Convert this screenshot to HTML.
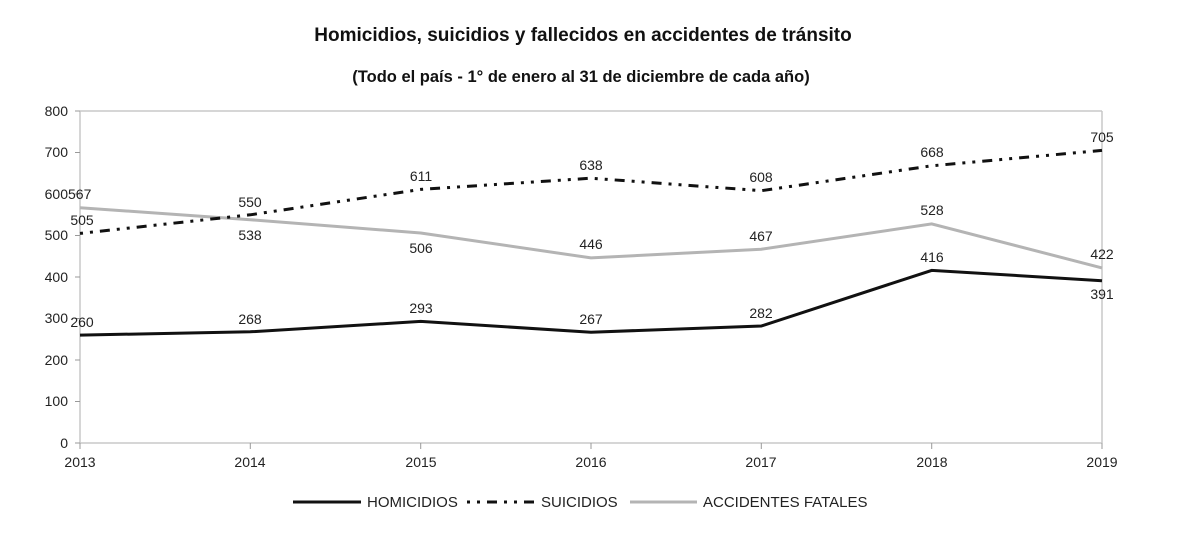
<!DOCTYPE html>
<html><head><meta charset="utf-8"><style>
body{margin:0;background:#fff;}
svg{display:block;font-family:"Liberation Sans",sans-serif;}
</style></head><body>
<svg width="1200" height="545" viewBox="0 0 1200 545">
<text x="583" y="41" text-anchor="middle" font-size="19" font-weight="bold" fill="#111">Homicidios, suicidios y fallecidos en accidentes de tránsito</text>
<text x="581" y="82" text-anchor="middle" font-size="16.5" font-weight="bold" fill="#111">(Todo el país - 1° de enero al 31 de diciembre de cada año)</text>
<g stroke="#c8c8c8" stroke-width="1.5" fill="none">
<line x1="80" y1="111" x2="1102" y2="111"/>
<line x1="80" y1="111" x2="80" y2="443"/>
<line x1="80" y1="443" x2="1102" y2="443"/>
<line x1="1102" y1="111" x2="1102" y2="443"/>
</g>
<g stroke="#999" stroke-width="1">
<line x1="75" y1="111" x2="80" y2="111"/><line x1="75" y1="152.5" x2="80" y2="152.5"/><line x1="75" y1="194" x2="80" y2="194"/><line x1="75" y1="235.5" x2="80" y2="235.5"/><line x1="75" y1="277" x2="80" y2="277"/><line x1="75" y1="318.5" x2="80" y2="318.5"/><line x1="75" y1="360" x2="80" y2="360"/><line x1="75" y1="401.5" x2="80" y2="401.5"/><line x1="75" y1="443" x2="80" y2="443"/>
<line x1="80" y1="443" x2="80" y2="449"/><line x1="250.3" y1="443" x2="250.3" y2="449"/><line x1="420.7" y1="443" x2="420.7" y2="449"/><line x1="591" y1="443" x2="591" y2="449"/><line x1="761.3" y1="443" x2="761.3" y2="449"/><line x1="931.7" y1="443" x2="931.7" y2="449"/><line x1="1102" y1="443" x2="1102" y2="449"/>
</g>
<g font-size="14" fill="#222" text-anchor="end">
<text x="68" y="116">800</text><text x="68" y="157">700</text><text x="68" y="199">600</text><text x="68" y="240">500</text><text x="68" y="282">400</text><text x="68" y="323">300</text><text x="68" y="365">200</text><text x="68" y="406">100</text><text x="68" y="448">0</text>
</g>
<g font-size="14" fill="#222" text-anchor="middle">
<text x="80" y="467">2013</text><text x="250" y="467">2014</text><text x="421" y="467">2015</text><text x="591" y="467">2016</text><text x="761" y="467">2017</text><text x="932" y="467">2018</text><text x="1102" y="467">2019</text>
</g>
<polyline fill="none" stroke="#b4b4b4" stroke-width="3" points="80,207.7 250.3,219.7 420.7,233 591,257.9 761.3,249.2 931.7,223.9 1102,267.9"/>
<polyline fill="none" stroke="#111" stroke-width="3" stroke-dasharray="3 7 3 7 10 7" points="80,233.4 250.3,214.8 420.7,189.4 591,178.2 761.3,190.7 931.7,165.8 1102,150.4"/>
<polyline fill="none" stroke="#111" stroke-width="3" points="80,335.1 250.3,331.8 420.7,321.4 591,332.2 761.3,326 931.7,270.4 1102,280.7"/>
<g font-size="14" fill="#222" text-anchor="middle">
<text x="82" y="327">260</text><text x="250" y="324">268</text><text x="421" y="313">293</text><text x="591" y="324">267</text><text x="761" y="318">282</text><text x="932" y="262">416</text><text x="1102" y="299">391</text>
<text x="82" y="225">505</text><text x="250" y="207">550</text><text x="421" y="181">611</text><text x="591" y="170">638</text><text x="761" y="182">608</text><text x="932" y="157">668</text><text x="1102" y="142">705</text>
<text x="68" y="199" text-anchor="start">567</text><text x="250" y="240">538</text><text x="421" y="253">506</text><text x="591" y="249">446</text><text x="761" y="241">467</text><text x="932" y="215">528</text><text x="1102" y="259">422</text>
</g>
<line x1="293" y1="502" x2="361" y2="502" stroke="#111" stroke-width="3"/>
<text x="367" y="507" font-size="15" fill="#222">HOMICIDIOS</text>
<line x1="467" y1="502" x2="537" y2="502" stroke="#111" stroke-width="3" stroke-dasharray="3 7 3 7 10 7"/>
<text x="541" y="507" font-size="15" fill="#222">SUICIDIOS</text>
<line x1="630" y1="502" x2="697" y2="502" stroke="#b4b4b4" stroke-width="3"/>
<text x="703" y="507" font-size="15" fill="#222">ACCIDENTES FATALES</text>
</svg>
</body></html>
